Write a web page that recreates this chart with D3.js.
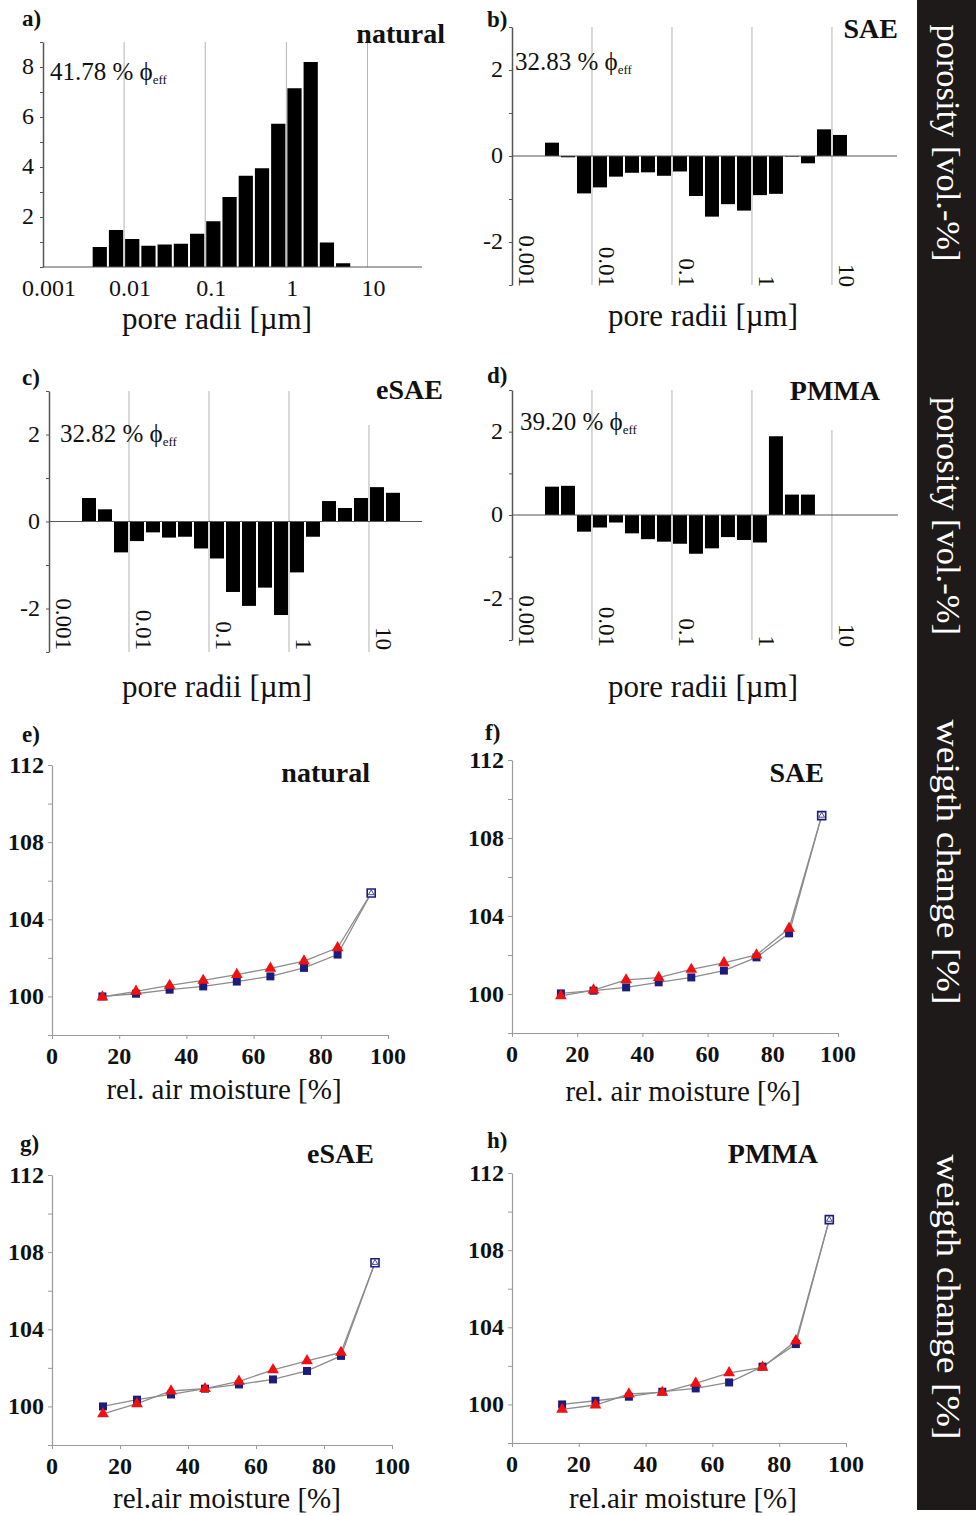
<!DOCTYPE html>
<html>
<head>
<meta charset="utf-8">
<script src="https://cdn.jsdelivr.net/npm/d3@7"></script>
<style>
  body { margin: 0; background: #fff; }
  svg { display: block; font-family: 'Liberation Serif', 'Times New Roman', serif; }
</style>
</head>
<body>
<div id="chart"></div>
<script>
// pore radius classes: lower edge in log10(µm), each class 0.2 decades wide
const binLog = [-2.6, -2.4, -2.2, -2.0, -1.8, -1.6, -1.4, -1.2, -1.0, -0.8,
  -0.6, -0.4, -0.2, 0.0, 0.2, 0.4, 0.6, 0.8, 1.0, 1.2];
const binStep = 0.2;
const poreTicks = [0.001, 0.01, 0.1, 1, 10];
const poreTickLabels = ['0.001', '0.01', '0.1', '1', '10'];

// a) porosity of the natural stone, b-d) difference to natural [vol.-%]
const porosityNatural = [null, 0.8, 1.48, 1.12, 0.85, 0.9, 0.93, 1.33, 1.83, 2.8,
  3.65, 3.95, 5.73, 7.15, 8.2, 0.98, 0.15, null, null, null];
const diffSAE = [0.31, -0.03, -0.87, -0.73, -0.48, -0.39, -0.38, -0.46, -0.36, -0.93,
  -1.41, -1.12, -1.27, -0.91, -0.88, -0.01, -0.17, 0.62, 0.49, null];
const diffESAE = [0.54, 0.28, -0.71, -0.45, -0.25, -0.37, -0.35, -0.62, -0.85, -1.62,
  -1.94, -1.52, -2.15, -1.17, -0.35, 0.47, 0.31, 0.54, 0.79, 0.66];
const diffPMMA = [0.68, 0.70, -0.40, -0.30, -0.18, -0.44, -0.58, -0.64, -0.69, -0.93,
  -0.80, -0.53, -0.60, -0.66, 1.89, 0.49, 0.49, null, null, null];

// e-h) weight change against relative air moisture
const rhSteps = [15, 25, 35, 45, 55, 65, 75, 85, 95];
const rhTicks = [0, 20, 40, 60, 80, 100];
const weightTicks = [100, 104, 108, 112];
const naturalSquares = [100.0, 100.14, 100.35, 100.52, 100.77, 101.04, 101.48, 102.17, 105.36];
const naturalTriangles = [99.97, 100.26, 100.57, 100.83, 101.13, 101.46, 101.83, 102.52, 105.36];
const saeSquares = [100.03, 100.17, 100.34, 100.6, 100.85, 101.2, 101.88, 103.11, 109.15];
const saeTriangles = [99.9, 100.2, 100.72, 100.84, 101.26, 101.6, 102.0, 103.37, 109.15];
const esaeSquares = [100.0, 100.35, 100.62, 100.92, 101.14, 101.4, 101.84, 102.62, 107.45];
const esaeTriangles = [99.62, 100.14, 100.8, 100.92, 101.3, 101.9, 102.36, 102.8, 107.45];
const pmmaSquares = [100.0, 100.19, 100.4, 100.66, 100.83, 101.14, 101.96, 103.13, 109.58];
const pmmaTriangles = [99.74, 99.97, 100.54, 100.62, 101.09, 101.64, 101.92, 103.3, 109.58];

const sideLabels = ['porosity [vol.-%]', 'porosity [vol.-%]', 'weigth change [%]', 'weigth change [%]'];

const width = 976;
const height = 1516;

const svg = d3
  .select('#chart')
  .append('svg')
  .attr('width', width)
  .attr('height', height);

svg.append('rect').attr('width', width).attr('height', height).attr('fill', '#fff');

const histPanels = [
  { tag: 'a)', name: 'natural', phi: '41.78', data: porosityNatural, x0: 43, x1: 422, xMax: 47,
    y0: 267, y1: 42, yDomain: [0, 9], yLabels: [2, 4, 6, 8], rotated: false,
    tagPos: [22, 26], namePos: [445, 43], phiPos: [50, 80], titlePos: [217, 329] },
  { tag: 'b)', name: 'SAE', phi: '32.83', data: diffSAE, x0: 512, x1: 897, xMax: 65,
    y0: 285, y1: 27, yDomain: [-3, 3], yLabels: [-2, 0, 2], rotated: true, labelEnd: 287,
    tagPos: [487, 27], namePos: [898, 38], phiPos: [515, 70], titlePos: [703, 326] },
  { tag: 'c)', name: 'eSAE', phi: '32.82', data: diffESAE, x0: 49, x1: 422, xMax: 46,
    y0: 652, y1: 391, yDomain: [-3, 3], yLabels: [-2, 0, 2], rotated: true, labelEnd: 650,
    tagPos: [22, 385], namePos: [443, 399], phiPos: [60, 442], titlePos: [217, 697], grid10Top: 425 },
  { tag: 'd)', name: 'PMMA', phi: '39.20', data: diffPMMA, x0: 512, x1: 898, xMax: 67,
    y0: 640, y1: 390, yDomain: [-3, 3], yLabels: [-2, 0, 2], rotated: true, labelEnd: 647,
    tagPos: [487, 383], namePos: [880, 400], phiPos: [520, 430], titlePos: [703, 697], grid10Top: 430 }
];

const moistPanels = [
  { tag: 'e)', name: 'natural', squares: naturalSquares, triangles: naturalTriangles,
    x0: 52, x1: 388, y0: 1035, y1: 765, title: 'rel. air moisture [%]',
    tagPos: [22, 742], namePos: [370, 782], titlePos: [224, 1099] },
  { tag: 'f)', name: 'SAE', squares: saeSquares, triangles: saeTriangles,
    x0: 512, x1: 838, y0: 1033, y1: 760, title: 'rel. air moisture [%]',
    tagPos: [485, 740], namePos: [824, 782], titlePos: [683, 1101] },
  { tag: 'g)', name: 'eSAE', squares: esaeSquares, triangles: esaeTriangles,
    x0: 52, x1: 392, y0: 1445, y1: 1175, title: 'rel.air moisture [%]',
    tagPos: [20, 1151], namePos: [374, 1163], titlePos: [227, 1508] },
  { tag: 'h)', name: 'PMMA', squares: pmmaSquares, triangles: pmmaTriangles,
    x0: 512, x1: 846, y0: 1443, y1: 1173, title: 'rel.air moisture [%]',
    tagPos: [487, 1148], namePos: [818, 1163], titlePos: [683, 1508] }
];

const addText = (g, pos, str, size, opts = {}) =>
  g
    .append('text')
    .attr('x', pos[0])
    .attr('y', pos[1])
    .attr('font-size', size)
    .attr('font-weight', opts.bold ? 'bold' : 'normal')
    .attr('text-anchor', opts.anchor || 'start')
    .attr('fill', '#111')
    .text(str);

// Drawing histograms a-d
histPanels.forEach(p => {
  const g = svg.append('g');
  const x = d3.scaleLog().domain([0.001, p.xMax]).range([p.x0, p.x1]);
  const y = d3.scaleLinear().domain(p.yDomain).range([p.y0, p.y1]);

  // vertical grid lines at the decades
  g.selectAll('.grid')
    .data(poreTicks.slice(1))
    .enter()
    .append('line')
    .attr('x1', d => x(d))
    .attr('x2', d => x(d))
    .attr('y1', d => (d === 10 && p.grid10Top ? p.grid10Top : p.y1))
    .attr('y2', p.y0)
    .attr('stroke', '#b4b4b4')
    .attr('stroke-width', 1);

  const bars = binLog
    .map((b, i) => ({ lo: Math.pow(10, b), hi: Math.pow(10, b + binStep), v: p.data[i] }))
    .filter(d => d.v !== null);

  g.selectAll('.bar')
    .data(bars)
    .enter()
    .append('rect')
    .attr('x', d => x(d.lo) + 1)
    .attr('width', d => x(d.hi) - x(d.lo) - 2)
    .attr('y', d => y(Math.max(0, d.v)))
    .attr('height', d => Math.max(0.6, Math.abs(y(d.v) - y(0))))
    .attr('fill', '#000');

  // zero line / x axis
  g.append('line')
    .attr('x1', p.x0)
    .attr('x2', p.x1)
    .attr('y1', y(0))
    .attr('y2', y(0))
    .attr('stroke', '#555')
    .attr('stroke-width', 1.2);

  // y axis
  const yAxis = g
    .append('g')
    .attr('transform', 'translate(' + p.x0 + ',0)')
    .call(
      d3
        .axisLeft(y)
        .tickValues(d3.range(p.yDomain[0], p.yDomain[1] + 1))
        .tickSize(3)
        .tickSizeOuter(0)
        .tickFormat('')
    );
  yAxis.select('.domain').attr('stroke', '#555').attr('stroke-width', 1.5);
  yAxis.selectAll('.tick line').attr('stroke', '#555');

  g.selectAll('.ylab')
    .data(p.yLabels)
    .enter()
    .append('text')
    .attr('x', p.x0 - 9)
    .attr('y', d => y(d))
    .attr('dy', '0.3em')
    .attr('text-anchor', 'end')
    .attr('font-size', 24)
    .attr('fill', '#111')
    .text(d => d);

  // x tick labels
  if (p.rotated) {
    g.selectAll('.xlab')
      .data(poreTicks)
      .enter()
      .append('text')
      .attr('transform', d => 'translate(' + (x(d) + 7) + ',' + p.labelEnd + ') rotate(90)')
      .attr('text-anchor', 'end')
      .attr('font-size', 23)
      .attr('fill', '#111')
      .text((d, i) => poreTickLabels[i]);
  } else {
    g.selectAll('.xlab')
      .data(poreTicks)
      .enter()
      .append('text')
      .attr('x', d => x(d) + 6)
      .attr('y', p.y0 + 29)
      .attr('text-anchor', 'middle')
      .attr('font-size', 24)
      .attr('fill', '#111')
      .text((d, i) => poreTickLabels[i]);
  }

  addText(g, p.tagPos, p.tag, 23, { bold: true });
  addText(g, p.namePos, p.name, 28, { bold: true, anchor: 'end' });
  addText(g, p.titlePos, 'pore radii [µm]', 31, { anchor: 'middle' });

  const phi = addText(g, p.phiPos, p.phi + ' % ϕ', 25);
  phi.append('tspan').attr('font-size', 13).attr('dy', 4).text('eff');
});

// Drawing weight change curves e-h
moistPanels.forEach(p => {
  const g = svg.append('g');
  const x = d3.scaleLinear().domain([0, 100]).range([p.x0, p.x1]);
  const y = d3.scaleLinear().domain([98, 112]).range([p.y0, p.y1]);

  const xAxis = g
    .append('g')
    .attr('transform', 'translate(0,' + p.y0 + ')')
    .call(d3.axisBottom(x).tickValues(rhTicks).tickSize(4).tickSizeOuter(0).tickFormat(''));
  const yAxis = g
    .append('g')
    .attr('transform', 'translate(' + p.x0 + ',0)')
    .call(d3.axisLeft(y).tickValues(d3.range(98, 113, 2)).tickSize(4).tickSizeOuter(0).tickFormat(''));
  [xAxis, yAxis].forEach(a => {
    a.select('.domain').attr('stroke', '#9a9a9a').attr('stroke-width', 1.2);
    a.selectAll('.tick line').attr('stroke', '#9a9a9a');
  });

  g.selectAll('.xlab')
    .data(rhTicks)
    .enter()
    .append('text')
    .attr('x', d => x(d))
    .attr('y', p.y0 + 29)
    .attr('text-anchor', 'middle')
    .attr('font-size', 24)
    .attr('font-weight', 'bold')
    .attr('fill', '#111')
    .text(d => d);

  g.selectAll('.ylab')
    .data(weightTicks)
    .enter()
    .append('text')
    .attr('x', p.x0 - 8)
    .attr('y', d => y(d))
    .attr('dy', '0.32em')
    .attr('text-anchor', 'end')
    .attr('font-size', 24)
    .attr('font-weight', 'bold')
    .attr('fill', '#111')
    .text(d => d);

  const line = d3
    .line()
    .x(d => x(d[0]))
    .y(d => y(d[1]));
  const sq = rhSteps.map((r, i) => [r, p.squares[i]]);
  const tri = rhSteps.map((r, i) => [r, p.triangles[i]]);

  [sq, tri].forEach(s => {
    g.append('path')
      .datum(s)
      .attr('fill', 'none')
      .attr('stroke', '#8c8c8c')
      .attr('stroke-width', 1.3)
      .attr('d', line);
  });

  const last = rhSteps.length - 1;
  g.selectAll('.sq')
    .data(sq)
    .enter()
    .append('path')
    .attr('transform', d => 'translate(' + x(d[0]) + ',' + y(d[1]) + ')')
    .attr('d', d3.symbol(d3.symbolSquare, 64))
    .attr('fill', (d, i) => (i === last ? '#fff' : '#1c1c7c'))
    .attr('stroke', '#1c1c7c')
    .attr('stroke-width', (d, i) => (i === last ? 1.6 : 0));

  g.selectAll('.tri')
    .data(tri)
    .enter()
    .append('path')
    .attr('transform', d => 'translate(' + x(d[0]) + ',' + y(d[1]) + ')')
    .attr('d', (d, i) => d3.symbol(d3.symbolTriangle, i === last ? 14 : 60)())
    .attr('fill', (d, i) => (i === last ? '#fff' : '#f01010'))
    .attr('stroke', (d, i) => (i === last ? '#1c1c7c' : 'none'))
    .attr('stroke-width', 0.8);

  addText(g, p.tagPos, p.tag, 23, { bold: true });
  addText(g, p.namePos, p.name, 28, { bold: true, anchor: 'end' });
  addText(g, p.titlePos, p.title, 29, { anchor: 'middle' });
});

// Dark side band with the shared y titles
svg.append('rect')
  .attr('x', 917)
  .attr('y', 0)
  .attr('width', width - 917)
  .attr('height', 1510)
  .attr('fill', '#1e1a19');

const sideCenters = [143, 516, 862, 1297];
const sideLengths = [237, 238, 285, 285];
svg.selectAll('.side')
  .data(sideLabels)
  .enter()
  .append('text')
  .attr('transform', (d, i) => 'translate(937,' + sideCenters[i] + ') rotate(90)')
  .attr('text-anchor', 'middle')
  .attr('font-size', 34)
  .attr('fill', '#fff')
  .attr('textLength', (d, i) => sideLengths[i])
  .attr('lengthAdjust', 'spacingAndGlyphs')
  .text(d => d);
</script>
</body>
</html>
